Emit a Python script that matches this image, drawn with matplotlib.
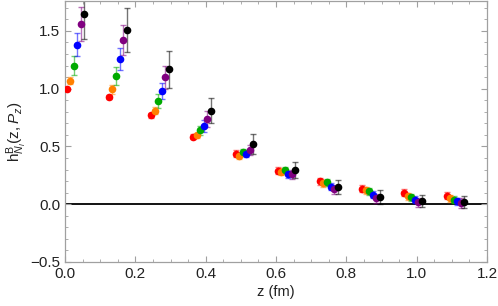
import numpy as np
import matplotlib
matplotlib.use("Agg")
import matplotlib.pyplot as plt
from matplotlib.ticker import MultipleLocator

plt.rcParams["font.family"] = "Liberation Sans"
plt.rcParams["mathtext.fontset"] = "custom"
plt.rcParams["mathtext.rm"] = "Liberation Sans"
plt.rcParams["mathtext.it"] = "Liberation Sans:italic"

z_base = np.array([0.0, 0.12, 0.24, 0.36, 0.48, 0.60, 0.72, 0.84, 0.96, 1.08])
z_shift = [0.005, 0.015, 0.025, 0.035, 0.045, 0.055]

colors = ["#ff0000", "#ff8000", "#00aa00", "#0000ff", "#800080", "#000000"]

h_red = [1.00, 0.93, 0.77, 0.585, 0.435, 0.29, 0.20, 0.135, 0.10, 0.075]
h_orange = [1.07, 0.995, 0.81, 0.595, 0.42, 0.28, 0.18, 0.12, 0.07, 0.05]
h_green = [1.20, 1.11, 0.89, 0.64, 0.45, 0.295, 0.19, 0.11, 0.06, 0.037]
h_blue = [1.38, 1.26, 0.98, 0.675, 0.435, 0.26, 0.15, 0.08, 0.037, 0.026]
h_purple = [1.56, 1.42, 1.10, 0.74, 0.47, 0.26, 0.13, 0.05, 0.017, 0.01]
h_black = [1.65, 1.51, 1.17, 0.81, 0.52, 0.295, 0.15, 0.06, 0.026, 0.02]

e_red = [0.01, 0.015, 0.02, 0.02, 0.03, 0.03, 0.03, 0.03, 0.03, 0.03]
e_orange = [0.03, 0.04, 0.03, 0.02, 0.03, 0.03, 0.03, 0.03, 0.03, 0.03]
e_green = [0.085, 0.08, 0.06, 0.04, 0.03, 0.03, 0.03, 0.03, 0.03, 0.03]
e_blue = [0.10, 0.095, 0.07, 0.05, 0.03, 0.03, 0.03, 0.03, 0.03, 0.03]
e_purple = [0.15, 0.13, 0.10, 0.07, 0.04, 0.04, 0.04, 0.04, 0.04, 0.04]
e_black = [0.22, 0.19, 0.16, 0.11, 0.085, 0.067, 0.06, 0.06, 0.053, 0.05]

values = [h_red, h_orange, h_green, h_blue, h_purple, h_black]
errors = [e_red, e_orange, e_green, e_blue, e_purple, e_black]

fig = plt.figure(figsize=(4.98, 3.06), dpi=100)
ax = fig.add_axes([0.1305, 0.144, 0.8475, 0.853])

ax.axhline(0, color="black", lw=1.3, zorder=1)

for c, dz, h, e in zip(colors, z_shift, values, errors):
    ax.errorbar(z_base + dz, h, yerr=e, fmt="none", ecolor=c, alpha=0.55,
                elinewidth=1.0, capsize=2.5, capthick=1.0, zorder=2)
    ax.plot(z_base + dz, h, "o", color=c, ms=5.5, mec="none", zorder=3)

ax.set_xlim(0, 1.2)
ax.set_ylim(-0.5, 1.76)
ax.xaxis.set_major_locator(MultipleLocator(0.2))
ax.xaxis.set_minor_locator(MultipleLocator(0.05))
ax.yaxis.set_major_locator(MultipleLocator(0.5))
ax.yaxis.set_minor_locator(MultipleLocator(0.1))
ax.xaxis.set_major_formatter(plt.FuncFormatter(lambda v, p: f"{v:.1f}"))
ax.yaxis.set_major_formatter(plt.FuncFormatter(lambda v, p: f"{v:.1f}".replace("-", "\u2212")))

for s in ax.spines.values():
    s.set_color("#a0a0a0")
    s.set_linewidth(0.9)
ax.tick_params(which="both", direction="in", top=True, right=True,
               color="#a0a0a0", labelsize=11, labelcolor="#222222")
ax.tick_params(which="major", length=4)
ax.tick_params(which="minor", length=2)

ax.set_xlabel("z (fm)", fontsize=10.5, color="#222222", labelpad=3)
ax.set_ylabel(r"$\mathrm{h}^{\mathrm{B}}_{N_l}(\mathrm{z},P_z)$", fontsize=11,
              color="#222222", labelpad=1)

fig.savefig("out.png", dpi=100)
